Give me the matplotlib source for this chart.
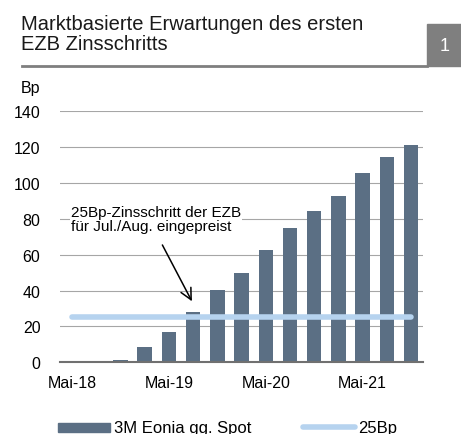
import numpy as np
import matplotlib.pyplot as plt
from matplotlib.patches import Rectangle
from matplotlib.lines import Line2D

plt.rcParams['font.family'] = ['Liberation Sans', 'DejaVu Sans']

# quarterly data, Mai-18 .. Nov-21
quarters = ['Mai-18', 'Aug-18', 'Nov-18', 'Feb-19', 'Mai-19', 'Aug-19', 'Nov-19', 'Feb-20',
            'Mai-20', 'Aug-20', 'Nov-20', 'Feb-21', 'Mai-21', 'Aug-21', 'Nov-21']
eonia = [0.0, 0.2, 1.3, 8.4, 16.9, 28.2, 40.3, 49.6, 62.8, 74.7, 84.2, 92.9, 105.7, 114.3, 121.0]
level_25bp = [25] * len(quarters)

bar_col = '#5b6f84'
line_col = '#b6d3ef'
grid_col = '#a6a6a6'

fig = plt.figure(figsize=(4.61, 4.35), dpi=100)
ax = fig.add_axes([0.130, 0.165, 0.788, 0.577])

x = np.arange(len(quarters))
ax.bar(x, eonia, width=0.6, color=bar_col, zorder=2)
ax.plot(x, level_25bp, color=line_col, lw=4, solid_capstyle='round', zorder=3)

ax.set_xlim(-0.5, len(quarters) - 0.5)
ax.set_ylim(0, 140)
ax.set_yticks(np.arange(0, 141, 20))
ax.set_xticks(x[::4])
ax.set_xticklabels(quarters[::4])
ax.tick_params(axis='both', length=0, labelsize=11.5)
ax.tick_params(axis='x', pad=9)
ax.tick_params(axis='y', pad=14)
ax.grid(axis='y', color=grid_col, lw=0.8, zorder=0)
for s in ['top', 'right', 'left']:
    ax.spines[s].set_visible(False)
ax.spines['bottom'].set_color('#707070')
ax.spines['bottom'].set_linewidth(1.5)
ax.spines['bottom'].set_zorder(4)

ax.text(-0.05, 87.5, '25Bp-Zinsschritt der EZB\nfür Jul./Aug. eingepreist',
        fontsize=11, va='top', ha='left', linespacing=1.0, zorder=5,
        bbox=dict(fc='white', ec='none', pad=0.5))
ax.annotate('', xy=(4.95, 34.0), xytext=(3.73, 65.4),
            arrowprops=dict(arrowstyle='->', color='black', lw=1.1,
                            mutation_scale=20, shrinkA=0, shrinkB=0))

# header
fig.text(0.045, 0.966, 'Marktbasierte Erwartungen des ersten\nEZB Zinsschritts',
         fontsize=14.5, va='top', ha='left', linespacing=1.08, color='#1a1a1a')
fig.add_artist(Line2D([0.048, 0.927], [0.846, 0.846], color='#7f7f7f', lw=2,
                      transform=fig.transFigure))
fig.add_artist(Rectangle((0.927, 0.846), 0.073, 0.097, transform=fig.transFigure,
                         color='#7f7f7f'))
fig.text(0.9635, 0.892, '1', fontsize=13, color='white', ha='center', va='center')
fig.text(0.046, 0.797, 'Bp', fontsize=11.5, va='center', ha='left')

# legend
fig.add_artist(Rectangle((0.126, 0.004), 0.113, 0.022, transform=fig.transFigure,
                         color=bar_col))
fig.text(0.248, 0.014, '3M Eonia gg. Spot', fontsize=12, va='center', ha='left')
fig.add_artist(Line2D([0.657, 0.770], [0.015, 0.015], color=line_col, lw=4,
                      solid_capstyle='round', transform=fig.transFigure))
fig.text(0.777, 0.014, '25Bp', fontsize=12, va='center', ha='left')

fig.savefig('out.png', dpi=100)
